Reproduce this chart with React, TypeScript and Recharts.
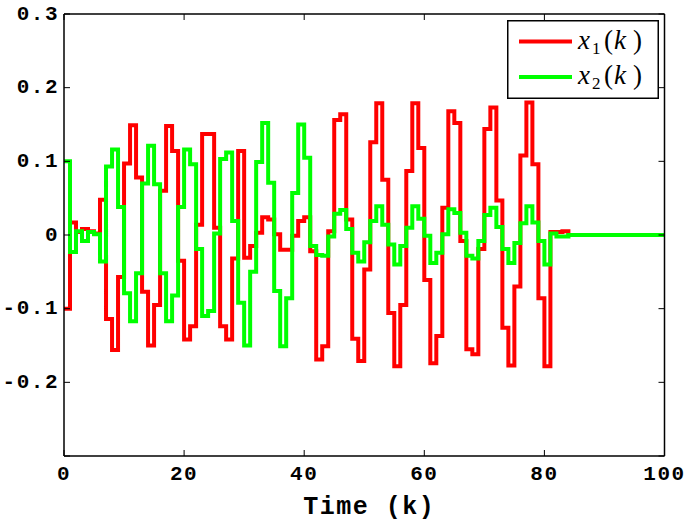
import React from 'react';
import { LineChart, Line, XAxis, YAxis } from 'recharts';

const steps: number[] = [
  0, 1, 2, 3, 4, 5, 6, 7, 8, 9, 10, 11, 12, 13, 14, 15, 16, 17, 18, 19,
  20, 21, 22, 23, 24, 25, 26, 27, 28, 29, 30, 31, 32, 33, 34, 35, 36, 37, 38, 39,
  40, 41, 42, 43, 44, 45, 46, 47, 48, 49, 50, 51, 52, 53, 54, 55, 56, 57, 58, 59,
  60, 61, 62, 63, 64, 65, 66, 67, 68, 69, 70, 71, 72, 73, 74, 75, 76, 77, 78, 79,
  80, 81, 82, 83, 84, 85, 86, 87, 88, 89, 90, 91, 92, 93, 94, 95, 96, 97, 98, 99, 100,
];

const x1Values: number[] = [
  -0.1, 0.017, 0.004, 0.008, 0.005, 0.002, 0.048, -0.114, -0.156, -0.057,
  0.097, 0.149, 0.078, -0.077, -0.15, -0.095, 0.06, 0.148, 0.114, -0.035,
  -0.142, -0.124, 0.014, 0.137, 0.137, 0.01, -0.124, -0.142, -0.032, 0.114,
  -0.031, -0.015, 0.003, 0.024, 0.021, 0.001, -0.02, -0.02, -0.001, 0.019,
  0.024, -0.022, -0.169, -0.151, 0.005, 0.156, 0.164, 0.021, -0.141, -0.171,
  -0.047, 0.126, 0.179, 0.075, -0.106, -0.178, -0.095, 0.087, 0.179, 0.118,
  -0.061, -0.174, -0.137, 0.037, 0.168, 0.152, -0.008, -0.155, -0.162, -0.019,
  0.144, 0.173, 0.047, -0.126, -0.177, -0.07, 0.108, 0.18, 0.096, -0.086,
  -0.178, 0.004, 0.004, 0.005, 0, 0, 0, 0, 0, 0,
  0, 0, 0, 0, 0, 0, 0, 0, 0, 0, 0,
];

const x2Values: number[] = [
  0.1, -0.023, 0.005, -0.008, 0.004, 0.001, -0.036, 0.093, 0.116, 0.038,
  -0.079, -0.117, -0.052, 0.07, 0.121, 0.069, -0.052, -0.117, -0.082, 0.038,
  0.116, 0.096, -0.019, -0.11, -0.103, 0.002, 0.103, 0.112, 0.019, -0.092,
  -0.15, -0.05, 0.099, 0.152, 0.071, -0.076, -0.151, -0.086, 0.057, 0.15,
  0.105, -0.015, -0.027, -0.028, -0.002, 0.029, 0.034, 0.008, -0.024, -0.036,
  -0.01, 0.019, 0.039, 0.014, -0.013, -0.04, -0.015, 0.01, 0.039, 0.022,
  -0.001, -0.038, -0.024, 0.001, 0.035, 0.03, 0.003, -0.028, -0.032, -0.008,
  0.027, 0.037, 0.011, -0.019, -0.038, -0.011, 0.016, 0.039, 0.017, -0.008,
  -0.04, 0.002, -0.002, -0.002, 0, 0, 0, 0, 0, 0,
  0, 0, 0, 0, 0, 0, 0, 0, 0, 0, 0,
];

const xTicks: number[] = [0, 20, 40, 60, 80, 100];
const yTicks: number[] = [-0.3, -0.2, -0.1, 0, 0.1, 0.2, 0.3];
const yTickLabels: string[] = ['', '-0.2', '-0.1', '0', '0.1', '0.2', '0.3'];
const xLabel = 'Time (k)';
const seriesNames = ['1', '2'];

const data = steps.map((k, i) => ({ k, x1: x1Values[i], x2: x2Values[i] }));

const tickFont: React.CSSProperties = {
  fontFamily: '"Liberation Mono", "DejaVu Sans Mono", monospace',
  fontWeight: 'bold',
  fontSize: 21,
  letterSpacing: 1.5,
};

const TICK = 6;

const BottomTick = (props: any) => {
  const { x, y, payload } = props;
  return (
    <g>
      <line x1={x} x2={x} y1={y} y2={y - TICK} stroke="#000" strokeWidth={1} />
      <text x={x} y={y + 18} textAnchor="middle" dominantBaseline="central" fill="#000" style={tickFont}>
        {String(payload.value)}
      </text>
    </g>
  );
};

const TopTick = (props: any) => {
  const { x, y } = props;
  return <line x1={x} x2={x} y1={y} y2={y + TICK} stroke="#000" strokeWidth={1} />;
};

const LeftTick = (props: any) => {
  const { x, y, payload } = props;
  const i = yTicks.findIndex((t) => Math.abs(t - payload.value) < 1e-9);
  const label = i >= 0 ? yTickLabels[i] : '';
  return (
    <g>
      <line x1={x} x2={x + TICK} y1={y} y2={y} stroke="#000" strokeWidth={1} />
      <text x={x - 5} y={y} textAnchor="end" dominantBaseline="central" fill="#000" style={tickFont}>
        {label}
      </text>
    </g>
  );
};

const RightTick = (props: any) => {
  const { x, y } = props;
  return <line x1={x} x2={x - TICK} y1={y} y2={y} stroke="#000" strokeWidth={1} />;
};

const XLabel = (props: any) => {
  const vb = props.viewBox || { x: 64, y: 456, width: 600, height: 66 };
  return (
    <text
      x={vb.x + vb.width / 2 + 5}
      y={vb.y + 51}
      textAnchor="middle"
      dominantBaseline="central"
      fill="#000"
      style={{ ...tickFont, fontSize: 25, letterSpacing: 1.5 }}
    >
      {xLabel}
    </text>
  );
};

const mathFont: React.CSSProperties = {
  fontFamily: '"Liberation Serif", "DejaVu Serif", serif',
  fontSize: 27,
};

const LegendEntry = ({ sub, y, color }: { sub: string; y: number; color: string }) => (
  <g>
    <line x1={12} x2={65} y1={y} y2={y} stroke={color} strokeWidth={4} />
    <text y={y + 7} fill="#000" style={mathFont}>
      <tspan x={71} fontStyle="italic">x</tspan>
      <tspan x={85} dy={5} fontSize={17}>{sub}</tspan>
      <tspan x={97} dy={-5}>(</tspan>
      <tspan x={107} fontStyle="italic">k</tspan>
      <tspan x={126}>)</tspan>
    </text>
  </g>
);

export default function App() {
  return (
    <div style={{ position: 'absolute', left: 0, top: 0, width: 685, height: 522, background: '#fff' }}>
      <LineChart width={685} height={522} data={data} margin={{ top: 0, right: 0, bottom: 0, left: 0 }}>
        <XAxis
          xAxisId="b"
          dataKey="k"
          type="number"
          domain={[0, 100]}
          ticks={xTicks}
          allowDataOverflow
          height={66}
          tickSize={0}
          tickMargin={0}
          tickLine={false}
          tick={<BottomTick />}
          axisLine={{ stroke: '#000', strokeWidth: 1.5 }}
          label={<XLabel />}
          interval={0}
        />
        <XAxis
          xAxisId="t"
          orientation="top"
          type="number"
          dataKey="k"
          domain={[0, 100]}
          ticks={xTicks}
          allowDataOverflow
          height={14}
          tickSize={0}
          tickMargin={0}
          tickLine={false}
          tick={<TopTick />}
          axisLine={{ stroke: '#000', strokeWidth: 1.5 }}
          interval={0}
        />
        <YAxis
          yAxisId="l"
          type="number"
          domain={[-0.3, 0.3]}
          ticks={yTicks}
          allowDataOverflow
          width={64}
          tickSize={0}
          tickMargin={0}
          tickLine={false}
          tick={<LeftTick />}
          axisLine={{ stroke: '#000', strokeWidth: 1.5 }}
          interval={0}
        />
        <YAxis
          yAxisId="r"
          orientation="right"
          type="number"
          domain={[-0.3, 0.3]}
          ticks={yTicks}
          allowDataOverflow
          width={20.5}
          tickSize={0}
          tickMargin={0}
          tickLine={false}
          tick={<RightTick />}
          axisLine={{ stroke: '#000', strokeWidth: 1.5 }}
          interval={0}
        />
        <Line
          xAxisId="b"
          yAxisId="l"
          type="stepAfter"
          dataKey="x1"
          stroke="#ff0000"
          strokeWidth={4}
          dot={false}
          activeDot={false}
          isAnimationActive={false}
        />
        <Line
          xAxisId="b"
          yAxisId="l"
          type="stepAfter"
          dataKey="x2"
          stroke="#00ff00"
          strokeWidth={4}
          dot={false}
          activeDot={false}
          isAnimationActive={false}
        />
      </LineChart>
      <svg
        width={152}
        height={79}
        style={{ position: 'absolute', left: 507, top: 20 }}
      >
        <rect x={0.75} y={0.75} width={150.5} height={77.5} fill="#fff" stroke="#000" strokeWidth={1.5} />
        <LegendEntry sub={seriesNames[0]} y={21.5} color="#ff0000" />
        <LegendEntry sub={seriesNames[1]} y={57} color="#00ff00" />
      </svg>
    </div>
  );
}
